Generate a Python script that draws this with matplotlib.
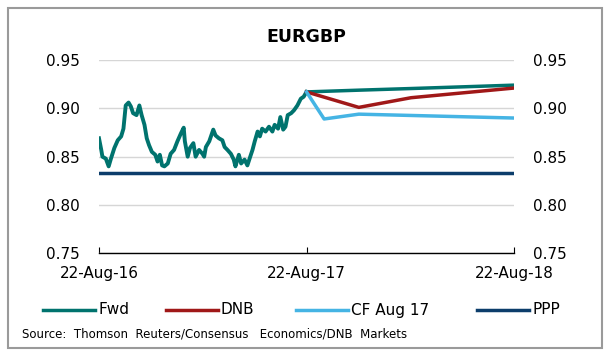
import pandas as pd
import matplotlib.pyplot as plt
import matplotlib.dates as mdates
from matplotlib.lines import Line2D
from matplotlib.patches import Rectangle

plt.rcParams['font.family'] = ['DejaVu Sans']

# spot history: days after 22-Aug-2016 and EURGBP level
hist_days = [0, 4, 6, 12, 17, 21, 27, 33, 39, 43, 47, 52, 56, 60, 66, 71, 75, 80, 84, 88,
             93, 99, 103, 107, 111, 115, 121, 126, 132, 138, 144, 149, 151, 156, 160, 166,
             170, 176, 182, 185, 188, 194, 201, 205, 211, 217, 221, 226, 232, 237, 240,
             246, 250, 256, 261, 266, 270, 274, 279, 283, 287, 293, 299, 305, 309, 315,
             319, 324, 328, 332, 338, 343, 349, 355, 360, 365]
hist_vals = [0.869, 0.857, 0.850, 0.848, 0.840, 0.848, 0.859, 0.867, 0.871, 0.879, 0.903,
             0.906, 0.902, 0.895, 0.893, 0.903, 0.893, 0.883, 0.869, 0.862, 0.855, 0.852,
             0.845, 0.852, 0.841, 0.840, 0.843, 0.853, 0.857, 0.866, 0.874, 0.880, 0.866,
             0.850, 0.859, 0.864, 0.850, 0.857, 0.853, 0.850, 0.860, 0.866, 0.878, 0.872,
             0.869, 0.867, 0.860, 0.857, 0.853, 0.847, 0.840, 0.852, 0.843, 0.847, 0.841,
             0.850, 0.857, 0.866, 0.876, 0.871, 0.879, 0.876, 0.881, 0.876, 0.883, 0.879,
             0.891, 0.878, 0.881, 0.893, 0.895, 0.898, 0.903, 0.910, 0.912, 0.917]

fwd_dates = ['2017-08-22', '2017-11-22', '2018-02-22', '2018-08-22']
fwd_vals = [0.917, 0.9188, 0.9205, 0.924]

dnb_dates = ['2017-08-22', '2017-11-22', '2018-02-22', '2018-08-22']
dnb_vals = [0.917, 0.901, 0.911, 0.921]

cf_dates = ['2017-08-22', '2017-09-22', '2017-11-22', '2018-08-22']
cf_vals = [0.917, 0.889, 0.894, 0.890]

ppp_dates = ['2016-08-22', '2018-08-22']
ppp_vals = [0.833, 0.833]

tick_dates = ['2016-08-22', '2017-08-22', '2018-08-22']
series_names = ['Fwd', 'DNB', 'CF Aug 17', 'PPP']
colors = ['#00736e', '#a01818', '#45b4e4', '#0c3d6b']

start = pd.Timestamp('2016-08-22')
hist_dates = start + pd.to_timedelta(hist_days, unit='D')

fig = plt.figure(figsize=(6.09, 3.55), dpi=100)
fig.add_artist(Rectangle((8 / 609, 1 - 348 / 355), 594 / 609, 340 / 355,
                         transform=fig.transFigure, fill=False,
                         edgecolor='#9a9a9a', linewidth=1.5))

ax = fig.add_axes([99 / 609, 1 - 253.4 / 355, 415 / 609, (253.4 - 60) / 355])

lw = 2.5
ax.plot(hist_dates, hist_vals, color=colors[0], lw=lw + 0.3, solid_joinstyle='round')
ax.plot(pd.to_datetime(fwd_dates), fwd_vals, color=colors[0], lw=lw)
ax.plot(pd.to_datetime(dnb_dates), dnb_vals, color=colors[1], lw=lw)
ax.plot(pd.to_datetime(cf_dates), cf_vals, color=colors[2], lw=lw)
ax.plot(pd.to_datetime(ppp_dates), ppp_vals, color=colors[3], lw=lw)

ax.set_ylim(0.75, 0.95)
ax.set_yticks([0.75, 0.80, 0.85, 0.90, 0.95])
ax.yaxis.set_major_formatter(plt.FuncFormatter(lambda v, p: f'{v:.2f}'))
ax.set_xlim(pd.Timestamp(tick_dates[0]), pd.Timestamp(tick_dates[-1]))
ax.set_xticks(pd.to_datetime(tick_dates))
ax.xaxis.set_major_formatter(mdates.DateFormatter('%d-%b-%y'))

ax.grid(axis='y', color='#d6d6d6', lw=1)
ax.set_axisbelow(True)
for s in ['left', 'right', 'top']:
    ax.spines[s].set_visible(False)
ax.spines['bottom'].set_color('black')
ax.spines['bottom'].set_linewidth(1)
ax.tick_params(axis='y', length=0, labelsize=11, pad=14, labelleft=True, labelright=True)
ax.tick_params(axis='x', direction='in', length=4, labelsize=11, pad=9)

fig.text(306 / 609, 1 - 37 / 355, 'EURGBP', ha='center', va='center',
         fontsize=12.5, fontweight='bold')

# legend row
leg_x = [43, 166, 296, 477]
leg_y = 1 - 310 / 355
for x0, name, c in zip(leg_x, series_names, colors):
    fig.add_artist(Line2D([x0 / 609, (x0 + 52) / 609], [leg_y, leg_y],
                          transform=fig.transFigure, color=c, lw=lw))
    fig.text((x0 + 55) / 609, leg_y, name, ha='left', va='center', fontsize=11)

fig.text(22 / 609, 1 - 334 / 355, 'Source:  Thomson  Reuters/Consensus   Economics/DNB  Markets',
         ha='left', va='center', fontsize=8.5)

fig.savefig('out.png', dpi=100)
